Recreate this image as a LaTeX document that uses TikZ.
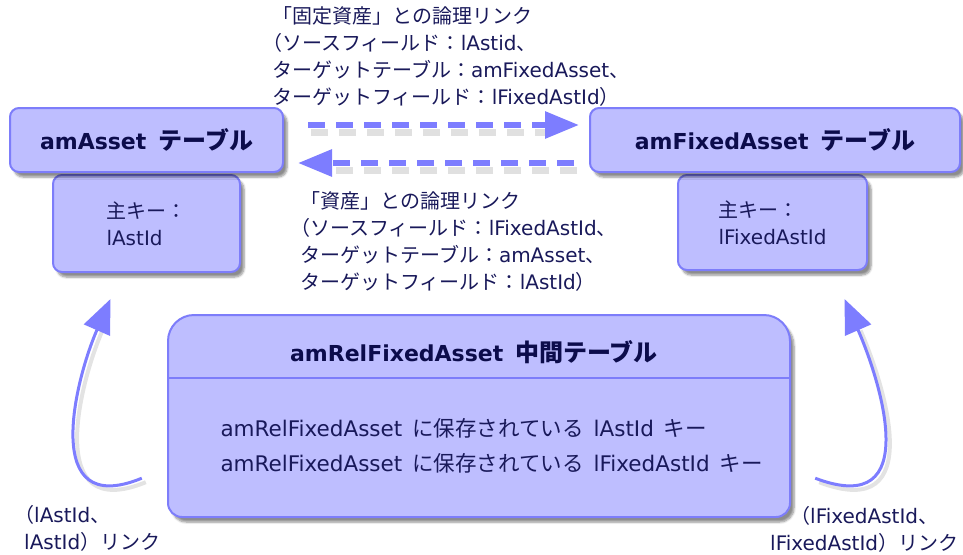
\documentclass[tikz,border=0pt]{standalone}
\usepackage{fontspec}
\setmainfont{DejaVu Sans}
\newfontfamily\jp{Noto Sans CJK JP}
\newfontfamily\jph[RawFeature=+halt]{Noto Sans CJK JP}
\newcommand{\hjp}[1]{{\jp\fontsize{24}{25}\selectfont #1}}
\usetikzlibrary{shadows.blur,arrows.meta}
\definecolor{boxfill}{RGB}{190,190,255}
\definecolor{boxline}{RGB}{125,125,250}
\definecolor{arrowc}{RGB}{125,125,255}
\definecolor{txt}{RGB}{25,25,90}
\definecolor{hdr}{RGB}{12,12,75}
\begin{document}
\begin{tikzpicture}[x=1pt,y=-1pt,
  tbox/.style={draw=boxline, fill=boxfill, line width=2pt, rounded corners=9pt,
    blur shadow={shadow xshift=4pt, shadow yshift=-5pt, shadow blur steps=6, shadow opacity=45}},
  hdrtext/.style={font=\fontsize{22}{25}\selectfont\bfseries, text=hdr},
  body/.style={font=\fontsize{20}{27}\selectfont, text=txt, align=left},
  midtext/.style={font=\fontsize{21.5}{27}\selectfont, text=txt, align=left},
  lbl/.style={font=\fontsize{20}{27}\selectfont, text=txt, align=left, inner sep=0pt},
  dasharrow/.style={draw=arrowc, line width=6pt, dash pattern=on 17pt off 11pt,
    -{Triangle[length=34pt,width=26pt]}},
  dashshadow/.style={draw=black!55, draw opacity=0.22, line width=7pt, dash pattern=on 17pt off 11pt,
    shorten >=30pt},
  curvearrow/.style={draw=arrowc, line width=3pt, -{Triangle[length=34pt,width=28pt]}},
  curveshadow/.style={draw=black!55, draw opacity=0.2, line width=4pt, shorten >=30pt},
  midshape/.style={draw=boxline, fill=boxfill, line width=2pt,
    blur shadow={shadow xshift=4pt, shadow yshift=-5pt, shadow blur steps=6, shadow opacity=45}}
]
\useasboundingbox (0,0) rectangle (963,554);

% key boxes (below headers)
\node[tbox, minimum width=187pt, minimum height=97pt, body] (keyA) at (146.5,223.5) {{\jp 主キー：}\\lAstId};
\node[tbox, minimum width=189pt, minimum height=95pt, body] (keyF) at (772.5,222.5) {{\jp 主キー：}\\lFixedAstId};

% header boxes
\node[tbox, minimum width=273pt, minimum height=64pt, hdrtext] (asset) at (146.5,140) {amAsset\hspace{12pt}\hjp{テーブル}};
\node[tbox, minimum width=370pt, minimum height=64pt, hdrtext] (fixed) at (775,140) {amFixedAsset\hspace{12pt}\hjp{テーブル}};

% middle table
\node[minimum width=622pt, minimum height=202pt, inner sep=0pt] (mid) at (479,416) {};
\path[midshape] (168,341) .. controls (168,326.7) and (179.7,315) .. (194,315)
  -- (764,315) .. controls (778.3,315) and (790,326.7) .. (790,341)
  -- (790,503) .. controls (790,510.7) and (783.7,517) .. (776,517)
  -- (182,517) .. controls (174.3,517) and (168,510.7) .. (168,503) -- cycle;
\draw[draw=boxline, line width=2pt] ([yshift=-63pt]mid.north west) -- ([yshift=-63pt]mid.north east);
\node[hdrtext] (midtitle) at (474,352) {amRelFixedAsset\hspace{12pt}\hjp{中間テーブル}};
\node[midtext, anchor=west] (midbody) at (217,445.5) {amRelFixedAsset\hspace{10pt}{\jp に保存されている}\hspace{10pt}lAstId\hspace{10pt}{\jp キー}\\[8pt]amRelFixedAsset\hspace{10pt}{\jp に保存されている}\hspace{10pt}lFixedAstId\hspace{10pt}{\jp キー}};

% link labels
\node[lbl, anchor=west] (lab1) at (272,56) {{\jp 「固定資産」との論理リンク}\\{\jph （}{\jp ソースフィールド：}lAstid{\jph 、}\\{\jp ターゲットテーブル：}amFixedAsset{\jph 、}\\{\jp ターゲットフィールド：}lFixedAstId{\jph ）}};
\node[lbl, anchor=west] (lab2) at (300,241.5) {{\jp 「資産」との論理リンク}\\{\jph （}{\jp ソースフィールド：}lFixedAstId{\jph 、}\\{\jp ターゲットテーブル：}amAsset{\jph 、}\\{\jp ターゲットフィールド：}lAstId{\jph ）}};

% dashed arrows (shadows first)
\draw[dashshadow] ([xshift=27pt,yshift=8pt]asset.east) -- ([xshift=-7pt,yshift=8pt]fixed.west);
\draw[dashshadow] ([xshift=-12pt,yshift=-30pt]fixed.west) -- ([xshift=17pt,yshift=-30pt]asset.east);
\draw[dasharrow] ([xshift=24pt,yshift=15pt]asset.east) -- ([xshift=-10pt,yshift=15pt]fixed.west);
\draw[dasharrow] ([xshift=-15pt,yshift=-23pt]fixed.west) -- ([xshift=14pt,yshift=-23pt]asset.east);

% curved arrows
\coordinate (lstart) at ([xshift=-26pt,yshift=39pt]mid.south west);
\coordinate (rstart) at ([xshift=25pt,yshift=39pt]mid.south east);
\draw[curveshadow] ([xshift=4pt,yshift=-4pt]lstart) .. controls (44,524) and (79,384) .. ([xshift=-32pt,yshift=-30pt]keyA.south);
\draw[curveshadow] ([xshift=4pt,yshift=-4pt]rstart) .. controls (929,524) and (884,384) .. ([xshift=76pt,yshift=-32pt]keyF.south);
\draw[curvearrow] (lstart) .. controls (40,520) and (75,380) .. ([xshift=-36pt,yshift=-26pt]keyA.south);
\draw[curvearrow] (rstart) .. controls (925,520) and (880,380) .. ([xshift=72pt,yshift=-28pt]keyF.south);

% bottom labels
\node[lbl, anchor=west] (labL) at (24,528) {{\jph （}lAstId{\jph 、}\\lAstId{\jp ）リンク}};
\node[lbl, anchor=west] (labR) at (770,529) {\hspace*{30pt}{\jph （}lFixedAstId{\jph 、}\\lFixedAstId{\jp ）リンク}};
\end{tikzpicture}
\end{document}
